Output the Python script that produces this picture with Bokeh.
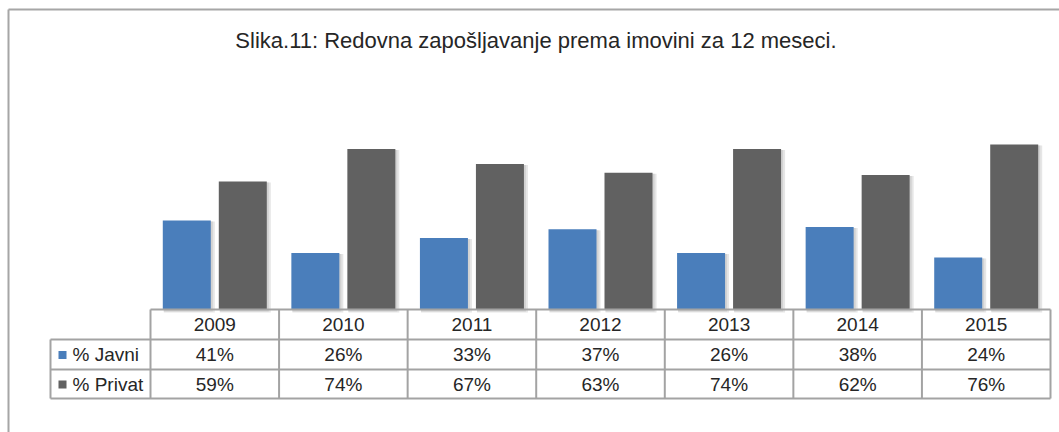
from bokeh.plotting import figure
from bokeh.models import Range1d, Label
from bokeh.embed import file_html
from bokeh.resources import INLINE
from bokeh.core.properties import value

# ---- data ----
years = ["2009", "2010", "2011", "2012", "2013", "2014", "2015"]
javni = [41, 26, 33, 37, 26, 38, 24]
privat = [59, 74, 67, 63, 74, 62, 76]
series_names = ["% Javni", "% Privat"]
colors = ["#4A7EBB", "#616161"]
title_text = "Slika.11: Redovna zapošljavanje prema  imovini za 12 meseci."

# ---- layout constants (pixels, page coordinates) ----
W, H = 1059, 432
COL = 900 / 7          # px per category
S = 2.17               # px per percent
X0 = -0.5 - 150 / COL
X1 = X0 + W / COL
Y1 = 309 / S
Y0 = Y1 - H / S

def px(x):
    return X0 + x / COL

def py(y):
    return Y1 - y / S

FONT = value("Liberation Sans")
TXT = "#262626"
GRID = "#A3A3A3"

p = figure(width=W, height=H, output_backend="svg", toolbar_location=None,
           x_range=Range1d(X0, X1), y_range=Range1d(Y0, Y1),
           min_border=0, outline_line_color=None)
p.axis.visible = False
p.grid.visible = False
p.background_fill_color = "white"
p.border_fill_color = "white"

n = len(years)
idx = list(range(n))
bw = 48 / COL
off = 28 / COL
series = [javni, privat]

# shadows
for k, vals in enumerate(series):
    sign = -1 if k == 0 else 1
    xs = [i + sign * off for i in idx]
    p.vbar(x=[x + 2.5 / COL for x in xs], width=bw + 3 / COL,
           top=[v - 1 / S for v in vals], bottom=-3 / S,
           fill_color="#d6d6d6", line_color=None, fill_alpha=0.6)
    p.vbar(x=[x + 1.5 / COL for x in xs], width=bw + 1 / COL,
           top=[v - 1 / S for v in vals], bottom=-2 / S,
           fill_color="#c4c4c4", line_color=None, fill_alpha=0.6)

# bars
for k, vals in enumerate(series):
    sign = -1 if k == 0 else 1
    xs = [i + sign * off for i in idx]
    p.vbar(x=xs, width=bw, top=vals, bottom=0,
           fill_color=colors[k], line_color=None)

# ---- table ----
ys_h = [py(309), py(339), py(369), py(398)]
xl = px(50)
p.segment(x0=[-0.5], y0=[ys_h[0]], x1=[n - 0.5], y1=[ys_h[0]], line_color=GRID, line_width=2)
p.segment(x0=[xl] * 3, y0=ys_h[1:], x1=[n - 0.5] * 3, y1=ys_h[1:], line_color=GRID, line_width=2)
p.segment(x0=[i - 0.5 for i in range(n + 1)], y0=[ys_h[0]] * (n + 1),
          x1=[i - 0.5 for i in range(n + 1)], y1=[ys_h[3]] * (n + 1),
          line_color=GRID, line_width=2)
p.segment(x0=[xl], y0=[ys_h[1]], x1=[xl], y1=[ys_h[3]], line_color=GRID, line_width=2)

p.text(x=idx, y=[py(324)] * n, text=years, text_align="center", text_baseline="middle",
       text_font=FONT, text_font_size="19px", text_color=TXT)
row_y = [py(354), py(383.5)]
for k, vals in enumerate(series):
    p.text(x=idx, y=[row_y[k]] * n, text=[f"{v}%" for v in vals],
           text_align="center", text_baseline="middle",
           text_font=FONT, text_font_size="19px", text_color=TXT)
    p.scatter(x=[px(62)], y=[row_y[k] - 0.5 / S], marker="square", size=8,
              fill_color=colors[k], line_color=None)
    p.text(x=[px(72)], y=[row_y[k]], text=[series_names[k]],
           text_align="left", text_baseline="middle",
           text_font=FONT, text_font_size="19px", text_color=TXT)

# ---- frame lines (top & left) ----
p.segment(x0=[px(8), px(8)], y0=[py(9), py(9)], x1=[px(8), X1], y1=[Y0, py(9)],
          line_color="#A6A6A6", line_width=2)

# ---- title ----
p.add_layout(Label(x=px(538.5), y=py(40), text=title_text, text_align="center",
                   text_baseline="middle", text_font="Liberation Sans",
                   text_font_size="22px", text_color=TXT))

open("out.html", "w").write(file_html(p, INLINE))
